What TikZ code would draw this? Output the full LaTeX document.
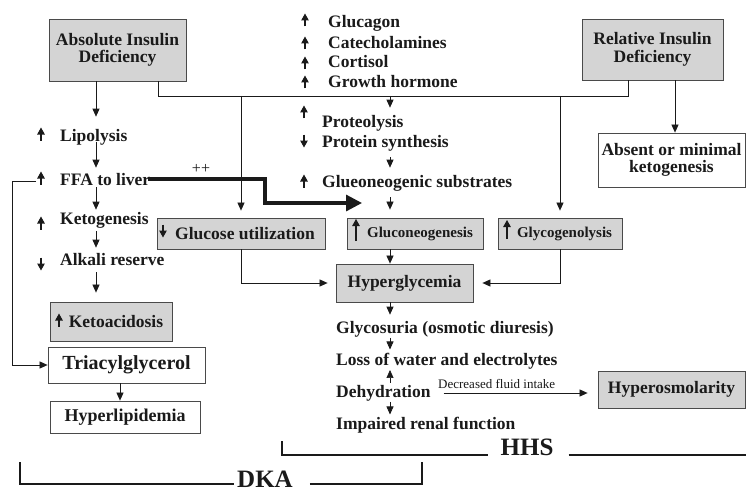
\documentclass[tikz,border=0pt]{standalone}
\usepackage{fontspec}
\setmainfont{Liberation Serif}
\usetikzlibrary{arrows.meta}
\definecolor{boxgray}{HTML}{D4D4D4}
\definecolor{edge}{HTML}{4A4A4A}
\definecolor{ink}{HTML}{1A1A1A}
\tikzset{
  lbl/.style={font=\bfseries\fontsize{17.5}{17.5}\selectfont, inner sep=0pt, anchor=base west, text=ink},
  box/.style={draw=edge, line width=0.8pt, align=center, inner sep=0pt, text=ink,
              font=\bfseries\fontsize{17.5}{17.5}\selectfont},
  gbox/.style={box, fill=boxgray},
  wbox/.style={box, fill=white},
  smallbox/.style={font=\bfseries\fontsize{15}{15}\selectfont},
  conn/.style={draw=ink, line width=0.7pt, -{Triangle[length=8pt,width=7pt]}},
  plainline/.style={draw=ink, line width=0.7pt},
  glyph/.style={draw=ink, line width=1.1pt, -{Triangle[length=7pt,width=7.5pt]}},
  thickarrow/.style={draw=ink, line width=3.2pt, -{Triangle[length=16pt,width=16pt]}},
  bracket/.style={draw=ink, line width=2.6pt},
  biglbl/.style={font=\bfseries\fontsize{25}{25}\selectfont, inner sep=0pt, anchor=base, text=ink}
}
\newcommand\glyphUp[2]{\draw[glyph] (#1,#2+6.5) -- (#1,#2-6.5);}
\newcommand\glyphDown[2]{\draw[glyph] (#1,#2-6.5) -- (#1,#2+6.5);}
\begin{document}
\begin{tikzpicture}[x=1pt,y=-1pt]
\useasboundingbox (0,0) rectangle (746,492);
\fill[white] (0,0) rectangle (746,492);

% column coordinates
\coordinate (colL) at (96,0);
\coordinate (colM) at (390,0);
\coordinate (colR) at (675,0);
\coordinate (colT) at (120,0);
\coordinate (busL) at (158,96);
\coordinate (busR) at (628,96);
\coordinate (bend) at (265,0);
\coordinate (thicktip) at (362,203);
\coordinate (ffaglyph) at (36,181);
\coordinate (fbk) at (12,0);
\coordinate (dfiline) at (0,393);
\coordinate (hhsL) at (282,441);
\coordinate (hhsR) at (746,0);
\coordinate (dkaL) at (20,462);
\coordinate (dkaR) at (422,462);

% boxes
\node[gbox, minimum width=137pt, minimum height=62pt] (abs) at (117.5,50) {Absolute Insulin\\[0pt]Deficiency};
\node[gbox, minimum width=141pt, minimum height=61pt] (rel) at (652.5,49.5) {Relative Insulin\\Deficiency};
\node[wbox, minimum width=147pt, minimum height=54pt] (absent) at (671.5,160) {Absent or minimal\\ketogenesis};
\node[gbox, minimum width=168pt, minimum height=31pt] (gu) at (241,233.5) {\hspace*{8pt}Glucose utilization};
\node[gbox, smallbox, minimum width=136pt, minimum height=31pt] (gng) at (415,233.5) {\hspace*{10pt}Gluconeogenesis};
\node[gbox, smallbox, minimum width=124pt, minimum height=31pt] (gly) at (560,233.5) {\hspace*{9pt}Glycogenolysis};
\node[gbox, minimum width=137pt, minimum height=38pt] (hyper) at (404.5,283) {Hyperglycemia};
\node[gbox, minimum width=122pt, minimum height=39pt] (ketoac) at (111,321.5) {\hspace*{10pt}Ketoacidosis};
\node[wbox, minimum width=157pt, minimum height=36pt, font=\bfseries\fontsize{20}{20}\selectfont] (tag) at (126.5,365) {Triacylglycerol};
\node[wbox, minimum width=150pt, minimum height=32pt, font=\bfseries\fontsize{18}{18}\selectfont] (hlip) at (125,417) {Hyperlipidemia};
\node[gbox, minimum width=147pt, minimum height=37pt] (hosm) at (671.5,389.5) {Hyperosmolarity};

% top list
\node[lbl] (glucagon) at (328,28) {Glucagon};
\node[lbl] (catec) at (328,49) {Catecholamines};
\node[lbl] (cortisol) at (328,68) {Cortisol};
\node[lbl] (growth) at (328,88) {Growth hormone};
\node[lbl] (proteo) at (322,128) {Proteolysis};
\node[lbl] (protsyn) at (322,147) {Protein synthesis};
\node[lbl] (gsub) at (322,187) {Glueoneogenic substrates};
\glyphUp{305}{20}
\glyphUp{305}{43}
\glyphUp{305}{63}
\glyphUp{305}{82}
\glyphUp{304}{112}
\glyphDown{304}{141}
\glyphUp{304}{181}

% left column
\node[lbl] (lipo) at (60,141) {Lipolysis};
\node[lbl] (ffa) at (60,185) {FFA to liver};
\node[lbl] (keto) at (60,224) {Ketogenesis};
\node[lbl] (alkali) at (60,265) {Alkali reserve};
\glyphUp{41}{134}
\glyphUp{41}{178}
\glyphUp{41}{223}
\glyphDown{41}{264}

% glyphs in boxes
\glyphDown{163}{231}
\draw[glyph] (356,241) -- (356,219);
\draw[glyph] (507,239) -- (507,220);
\glyphUp{59}{320}

% lower list
\node[lbl] (glycos) at (336,333) {Glycosuria (osmotic diuresis)};
\node[lbl] (loss) at (336,365) {Loss of water and electrolytes};
\node[lbl] (dehyd) at (336,397) {Dehydration};
\node[lbl] (renal) at (336,429) {Impaired renal function};
\node[font=\fontsize{13}{13}\selectfont, inner sep=0pt, anchor=base west, text=ink] (dfi) at (438,388) {Decreased fluid intake};
\node[font=\fontsize{16}{16}\selectfont, inner sep=0pt, anchor=base, text=ink] (pp) at (201,173) {++};

% bus from both deficiencies
\draw[plainline] (abs.south -| busL) -- (busL) -- (busR) -- (rel.south -| busR);
\draw[conn, shorten >=7pt] (gu.north |- busL) -- (gu.north);
\draw[conn, shorten >=8pt] (colM |- busL) -- (proteo.north -| colM);
\draw[conn, shorten >=7pt] (gly.north |- busL) -- (gly.north);
\draw[conn] (rel.south -| colR) -- (absent.north -| colR);

% left chain
\draw[conn, shorten >=12pt] (abs.south -| colL) -- (lipo.north -| colL);
\draw[conn, shorten >=5pt, shorten <=-3pt] (lipo.south -| colL) -- (ffa.north -| colL);
\draw[conn, shorten >=2pt, shorten <=2pt] (ffa.south -| colL) -- (keto.north -| colL);
\draw[conn, shorten >=5pt, shorten <=3pt] (keto.south -| colL) -- (alkali.north -| colL);
\draw[conn, shorten >=9pt, shorten <=7pt] (alkali.south -| colL) -- (ketoac.north -| colL);
\draw[conn] (ffaglyph) -- (ffaglyph -| fbk) |- (tag.west);
\draw[conn] (tag.south -| colT) -- (hlip.north -| colT);

% thick arrow
\draw[thickarrow] ([xshift=-2pt,yshift=6pt]ffa.base east) -- ([yshift=6pt]ffa.base east -| bend) |- (thicktip);

% middle chain
\draw[conn, shorten >=7pt, shorten <=6pt] (protsyn.south -| colM) -- (gsub.north -| colM);
\draw[conn, shorten >=8pt, shorten <=6pt] (gsub.south -| colM) -- (gng.north -| colM);
\draw[conn] (gng.south -| colM) -- (hyper.north -| colM);
\draw[conn, shorten >=8pt] (gu.south) |- (hyper.west);
\draw[conn, shorten >=9pt] (gly.south) |- (hyper.east);
\draw[conn, shorten >=6pt] (hyper.south -| colM) -- (glycos.north -| colM);
\draw[conn, shorten >=3pt, shorten <=1pt] (glycos.south -| colM) -- (loss.north -| colM);
\draw[conn, shorten >=1pt, shorten <=2pt] (dehyd.north -| colM) -- (loss.south -| colM);
\draw[conn, shorten >=2pt, shorten <=1pt] (dehyd.south -| colM) -- (renal.north -| colM);
\draw[conn, shorten <=13pt, shorten >=10pt] (dehyd.east |- dfiline) -- (hosm.west |- dfiline);

% brackets
\node[biglbl] (hhs) at (527,455) {HHS};
\node[biglbl] (dka) at (265,487) {DKA};
\draw[bracket] (hhsL) |- ([xshift=-12pt]hhs.base west);
\draw[bracket] ([xshift=15pt]hhs.base east) -- (hhs.base east -| hhsR);
\draw[bracket] (dkaL) |- ([xshift=-3pt,yshift=3pt]dka.base west);
\draw[bracket] ([xshift=17pt,yshift=3pt]dka.base east) -| (dkaR);
\end{tikzpicture}
\end{document}
